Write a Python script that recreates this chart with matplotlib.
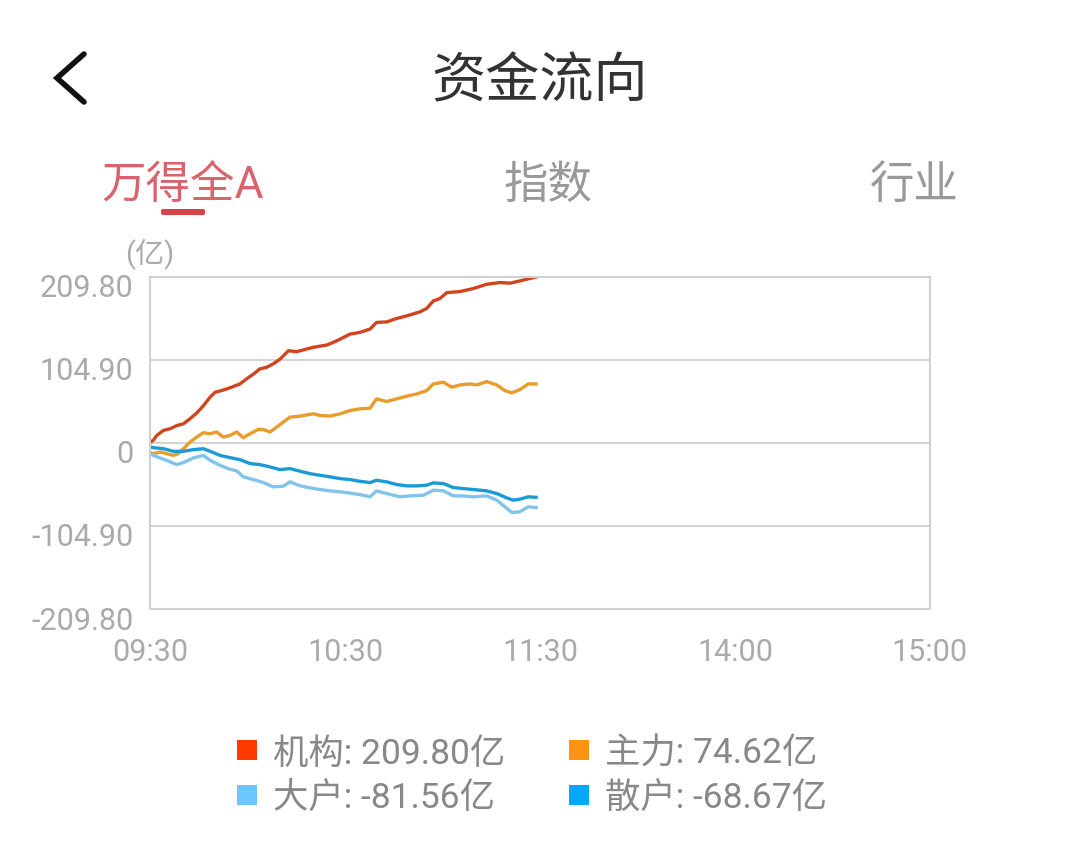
import matplotlib
matplotlib.use("Agg")
import matplotlib.pyplot as plt
import matplotlib.transforms as mtransforms
from matplotlib.lines import Line2D
from matplotlib.patches import FancyBboxPatch

plt.rcParams['font.family'] = ['Roboto', 'Noto Sans CJK SC', 'DejaVu Sans']

# ---- data (minutes since 09:30, trading time; value in 亿) ----
jg_t = [0, 1.0, 2.1, 4.1, 6.2, 8.2, 10.3, 12.3, 14.4, 16.4, 18.5, 20.0, 22.6, 25.1, 27.7, 29.7,
        31.8, 33.8, 35.9, 37.9, 40.0, 42.6, 45.1, 48.2, 50.3, 54.4, 57.4, 61.5, 64.6, 67.7, 69.7,
        72.8, 75.9, 79.0, 83.1, 85.1, 87.2, 89.2, 91.3, 95.4, 99.5, 103.6, 107.7, 110.8, 113.8,
        115.9, 118.8]
jg_v = [1.0, 3.3, 9.6, 15.9, 18.0, 22.0, 24.3, 30.6, 38.0, 47.0, 58.0, 64.0, 67.0, 70.5, 74.7,
        81.0, 87.0, 93.6, 95.7, 100.0, 106.0, 116.6, 115.4, 118.8, 121.0, 123.8, 129.0, 137.6,
        139.8, 144.0, 152.4, 153.0, 157.4, 160.7, 165.8, 170.0, 179.6, 182.6, 190.0, 191.4,
        195.2, 200.6, 202.8, 202.0, 204.8, 207.0, 209.8]

zl_t = [0, 1.0, 3.1, 5.1, 7.2, 8.7, 10.3, 12.3, 14.4, 16.4, 18.5, 20.5, 22.6, 24.6, 26.7, 28.7,
        30.8, 33.3, 34.9, 36.9, 39.0, 41.0, 43.1, 46.2, 50.3, 52.3, 55.4, 58.5, 61.5, 64.6, 67.7,
        69.7, 72.8, 75.9, 79.0, 82.1, 85.1, 87.2, 90.3, 92.8, 95.4, 98.5, 100.5, 103.6, 106.7,
        109.2, 111.3, 113.8, 116.4, 118.8]
zl_v = [-12.0, -13.5, -11.4, -13.5, -15.6, -13.5, -7.2, 1.2, 7.5, 13.0, 11.7, 13.9, 7.5, 9.6,
        13.9, 6.7, 11.7, 17.1, 17.1, 13.9, 20.1, 26.4, 32.7, 34.0, 36.9, 34.8, 34.0, 36.9, 41.0,
        43.2, 44.0, 55.8, 52.4, 55.8, 59.2, 62.0, 66.2, 74.7, 76.8, 70.5, 73.4, 74.7, 73.4, 77.6,
        73.4, 66.2, 63.3, 67.5, 74.7, 74.62]

dh_t = [0, 1.0, 3.1, 5.1, 8.2, 10.3, 13.3, 16.4, 18.5, 21.5, 24.6, 26.7, 28.7, 31.8, 34.9, 37.9,
        41.0, 43.1, 46.2, 49.2, 52.3, 55.4, 58.5, 62.6, 65.6, 67.7, 69.7, 72.8, 76.9, 80.0, 84.1,
        87.2, 90.3, 93.3, 96.4, 99.5, 103.6, 106.7, 109.2, 111.3, 113.8, 116.4, 118.8]
dh_v = [-14.0, -15.6, -18.9, -21.9, -27.3, -24.8, -18.9, -15.6, -21.9, -28.2, -33.2, -35.3,
        -42.8, -46.2, -50.0, -55.4, -54.6, -49.1, -54.2, -56.7, -58.8, -60.5, -61.7, -63.9,
        -66.0, -68.0, -60.5, -63.9, -68.0, -66.8, -66.0, -59.7, -60.5, -66.8, -67.0, -68.0,
        -66.8, -72.3, -80.6, -87.8, -86.9, -80.6, -81.56]

sh_t = [0, 1.0, 4.1, 7.2, 10.3, 13.3, 16.4, 18.5, 21.5, 24.6, 27.7, 30.8, 33.8, 36.9, 40.0,
        43.1, 46.2, 49.2, 52.3, 55.4, 58.5, 61.5, 64.6, 67.7, 69.7, 72.8, 75.9, 79.0, 82.1, 85.1,
        87.2, 90.3, 93.3, 96.4, 99.5, 103.6, 106.7, 109.7, 111.8, 113.8, 116.4, 118.8]
sh_v = [-5.0, -5.9, -7.2, -10.5, -10.5, -8.4, -7.2, -10.5, -15.6, -18.5, -21.0, -26.0, -27.3,
        -30.2, -33.6, -32.4, -35.7, -38.7, -40.8, -42.8, -45.0, -46.2, -48.4, -50.0, -47.1,
        -49.1, -52.5, -54.2, -54.2, -53.4, -50.4, -51.3, -56.3, -57.6, -58.8, -60.5, -63.9,
        -69.3, -72.3, -71.0, -68.0, -68.67]

series_names = ['机构', '主力', '大户', '散户']
legend_vals = [209.80, 74.62, -81.56, -68.67]
y_ticks = [-209.8, -104.9, 0, 104.9, 209.8]
y_labels = ['-209.80', '-104.90', '0', '104.90', '209.80']
x_ticks = [0, 60, 120, 180, 240]
x_labels = ['09:30', '10:30', '11:30', '14:00', '15:00']
tabs = ['万得全A', '指数', '行业']

line_colors = ['#d2441f', '#e89c2c', '#80c4ec', '#1b9bd6']
legend_colors = ['#ff3a00', '#ff9410', '#6cc6ff', '#00a8f8']

W, H = 1080, 862
fig = plt.figure(figsize=(W / 100, H / 100), dpi=100)
fig.patch.set_facecolor('white')

def fx(px):
    return px / W

def fy(py):
    return 1 - py / H

# ---- header ----
fig.text(fx(540), fy(83), '资金流向', ha='center', va='center', fontsize=39, color='#333333')
fig.add_artist(Line2D([fx(84), fx(57), fx(84)], [fy(55), fy(79), fy(103)],
                      color='#111111', lw=4.0, solid_capstyle='round', solid_joinstyle='miter'))

tab_x = [183, 548, 914]
tab_colors = ['#d9636b', '#999999', '#999999']
for t, x, c in zip(tabs, tab_x, tab_colors):
    fig.text(fx(x), fy(186), t, ha='center', va='center', fontsize=32, color=c)
fig.add_artist(FancyBboxPatch((fx(161), fy(216)), fx(44), 6 / H,
                              boxstyle='round,pad=0,rounding_size=0.002',
                              transform=fig.transFigure, color='#d9434b', lw=0))

fig.text(fx(150), fy(254), '(亿)', ha='center', va='center', fontsize=21, color='#aaaaaa')

# ---- chart ----
ax = fig.add_axes([fx(150), fy(610), fx(930) - fx(150), (610 - 278) / H])
ax.set_facecolor('white')
data = [(jg_t, jg_v), (zl_t, zl_v), (dh_t, dh_v), (sh_t, sh_v)]
for (t, v), c in zip(data, line_colors):
    ax.plot(t, v, color=c, lw=2.4, solid_joinstyle='round')

ax.set_xlim(0, 240)
ax.set_ylim(-209.8, 209.8)
ax.set_yticks(y_ticks)
ax.set_yticklabels(y_labels)
ax.set_xticks(x_ticks)
ax.set_xticklabels(x_labels)
for yv in y_ticks[1:-1]:
    ax.axhline(yv, color='#d4d4d4', lw=1.5, zorder=0)
for s in ax.spines.values():
    s.set_color('#d0d0d0')
    s.set_linewidth(1.5)
ax.tick_params(axis='both', length=0, labelsize=22, labelcolor='#aaaaaa')
ax.tick_params(axis='y', pad=12)
ax.tick_params(axis='x', pad=20)
shift = mtransforms.ScaledTranslation(0, -8 / 100, fig.dpi_scale_trans)
for lbl in ax.get_yticklabels():
    lbl.set_transform(lbl.get_transform() + shift)

# ---- legend ----
leg_pos = [(237, 751), (569, 751), (237, 796), (569, 796)]
for (x, y), name, val, c in zip(leg_pos, series_names, legend_vals, legend_colors):
    fig.add_artist(plt.Rectangle((fx(x), fy(y + 10)), 20 / W, 20 / H,
                                 transform=fig.transFigure, color=c, lw=0))
    fig.text(fx(x + 36), fy(y + 3), f'{name}: {val:.2f}亿', ha='left', va='center',
             fontsize=25.5, color='#888888')

fig.savefig('out.png', dpi=100, facecolor='white')
